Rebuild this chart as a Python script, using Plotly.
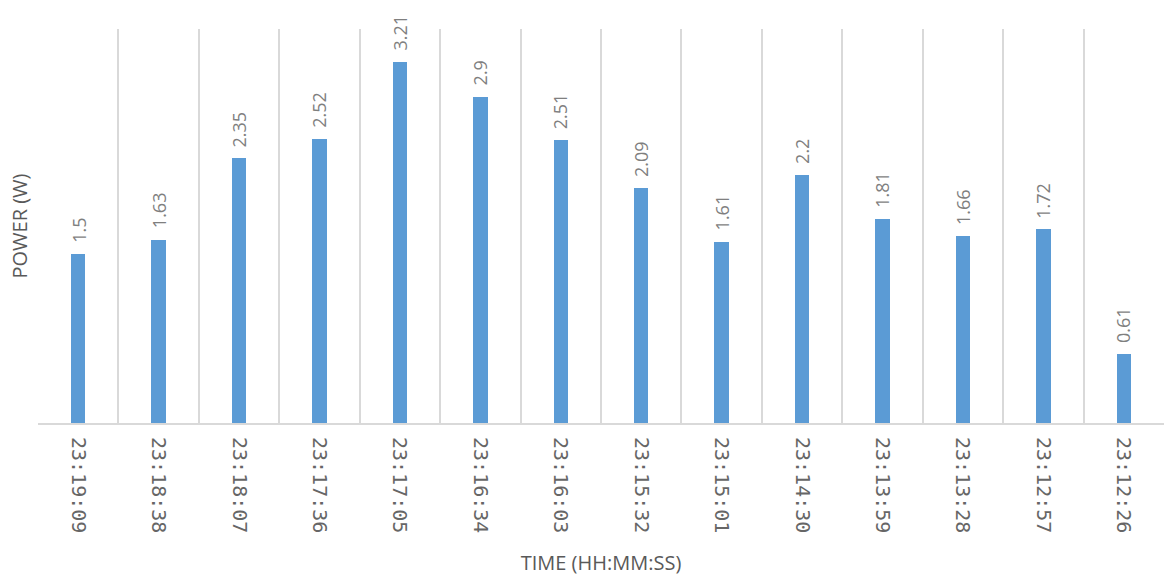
import plotly.graph_objects as go

# Sampled power readings, newest first
times = ["23:19:09", "23:18:38", "23:18:07", "23:17:36", "23:17:05", "23:16:34", "23:16:03",
         "23:15:32", "23:15:01", "23:14:30", "23:13:59", "23:13:28", "23:12:57", "23:12:26"]
power_w = [1.5, 1.63, 2.35, 2.52, 3.21, 2.9, 2.51, 2.09, 1.61, 2.2, 1.81, 1.66, 1.72, 0.61]

BAR_COLOR = "#5B9BD5"
GRID_COLOR = "#D9D9D9"
TEXT_COLOR = "#595959"
LABEL_COLOR = "#7F7F7F"

fig = go.Figure(
    go.Bar(
        x=times,
        y=power_w,
        marker=dict(color=BAR_COLOR, line=dict(width=0)),
        width=0.18,
        hoverinfo="x+y",
    )
)

# Value labels, rotated, sitting just above each bar
for t, v in zip(times, power_w):
    fig.add_annotation(
        x=t, y=v, text=f"{v:g}", showarrow=False,
        textangle=-90, xanchor="center", yanchor="bottom", yshift=9,
        font=dict(family="Open Sans", size=18, color=LABEL_COLOR),
    )

fig.update_layout(
    width=1164, height=578,
    margin=dict(l=38, r=0, t=29, b=155),
    paper_bgcolor="white", plot_bgcolor="white",
    showlegend=False,
    bargap=0,
    xaxis=dict(
        type="category",
        tickson="boundaries",
        showgrid=True, gridcolor=GRID_COLOR, gridwidth=1.5,
        showline=True, linecolor=GRID_COLOR, linewidth=2,
        ticks="", tickangle=90,
        ticklabelstandoff=8,
        tickfont=dict(family="DejaVu Sans Mono", size=20, color="#666666"),
        title=dict(text="TIME (HH:MM:SS)", standoff=24,
                   font=dict(family="Open Sans", size=20, color=TEXT_COLOR)),
        automargin=False,
    ),
    yaxis=dict(
        range=[0, 3.5],
        showgrid=False, zeroline=False, showline=False,
        showticklabels=False, ticks="",
        title=dict(text="POWER (W)", standoff=4,
                   font=dict(family="Open Sans", size=20, color=TEXT_COLOR)),
        automargin=False,
    ),
)

fig.write_html("out.html")
